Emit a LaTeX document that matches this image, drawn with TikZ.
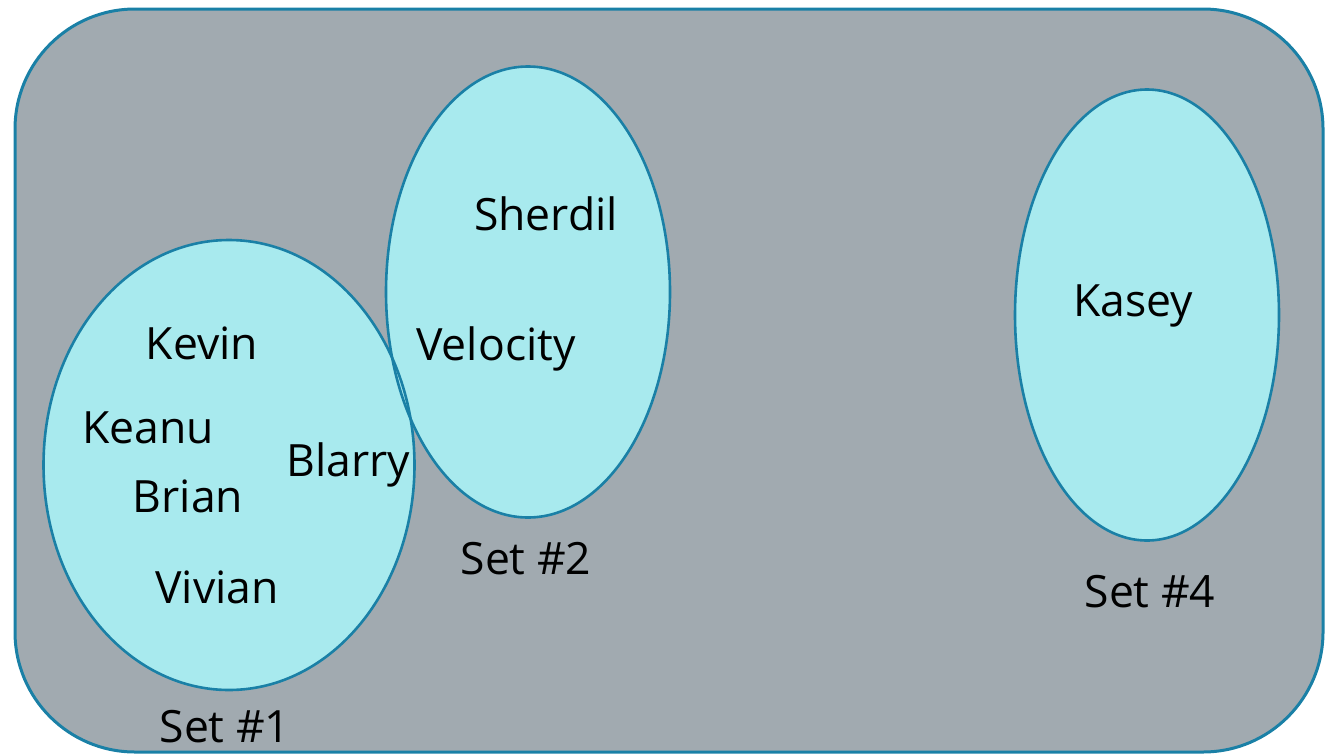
\documentclass[tikz,border=0pt]{standalone}
\usepackage{fontspec}
\setmainfont{Open Sans}
\usetikzlibrary{shapes.geometric}
\definecolor{panel}{HTML}{A1AAB0}
\definecolor{setfill}{HTML}{A8EAEE}
\definecolor{edge}{HTML}{1A80A6}
\tikzset{
  setshape/.style={ellipse, inner sep=0pt, fill=setfill},
  setline/.style={draw=edge, line width=2.6pt},
  member/.style={anchor=base, inner sep=0pt, font=\fontsize{44.5}{50}\selectfont},
  setlabel/.style={anchor=base, inner sep=0pt, font=\fontsize{44.5}{50}\selectfont},
}
\begin{document}
\begin{tikzpicture}[x=1pt, y=-1pt]
  \useasboundingbox (0,0) rectangle (1327,755);
  % universe panel
  \draw[fill=panel, draw=edge, line width=3pt, rounded corners=120pt] (15,9) rectangle (1323,752);
  % set regions: fills first, outlines on top so both borders stay visible
  \node[setshape, minimum width=371pt, minimum height=450pt] (s1) at (229,465) {};
  \node[setshape, minimum width=284pt, minimum height=451pt] (s2) at (528,292) {};
  \node[setshape, minimum width=264pt, minimum height=451pt] (s4) at (1147,315) {};
  \draw[setline] (s1.center) ellipse [x radius=185.5pt, y radius=225pt];
  \draw[setline] (s2.center) ellipse [x radius=142pt, y radius=225.5pt];
  \draw[setline] (s4.center) ellipse [x radius=132pt, y radius=225.5pt];
  % members
  \node[member] (kevin) at (202,359) {Kevin};
  \node[member] (keanu) at (148,443) {Keanu};
  \node[member] (blarry) at (348,476) {Blarry};
  \node[member] (brian) at (188,512) {Brian};
  \node[member] (vivian) at (217,603) {Vivian};
  \node[member] (sherdil) at (546,230) {Sherdil};
  \node[member] (velocity) at (496,360) {Velocity};
  \node[member] (kasey) at (1133,316) {Kasey};
  % set names
  \node[setlabel] (l1) at (225,742) {Set \#1};
  \node[setlabel] (l2) at (526,574) {Set \#2};
  \node[setlabel] (l4) at (1150,607) {Set \#4};
\end{tikzpicture}
\end{document}
